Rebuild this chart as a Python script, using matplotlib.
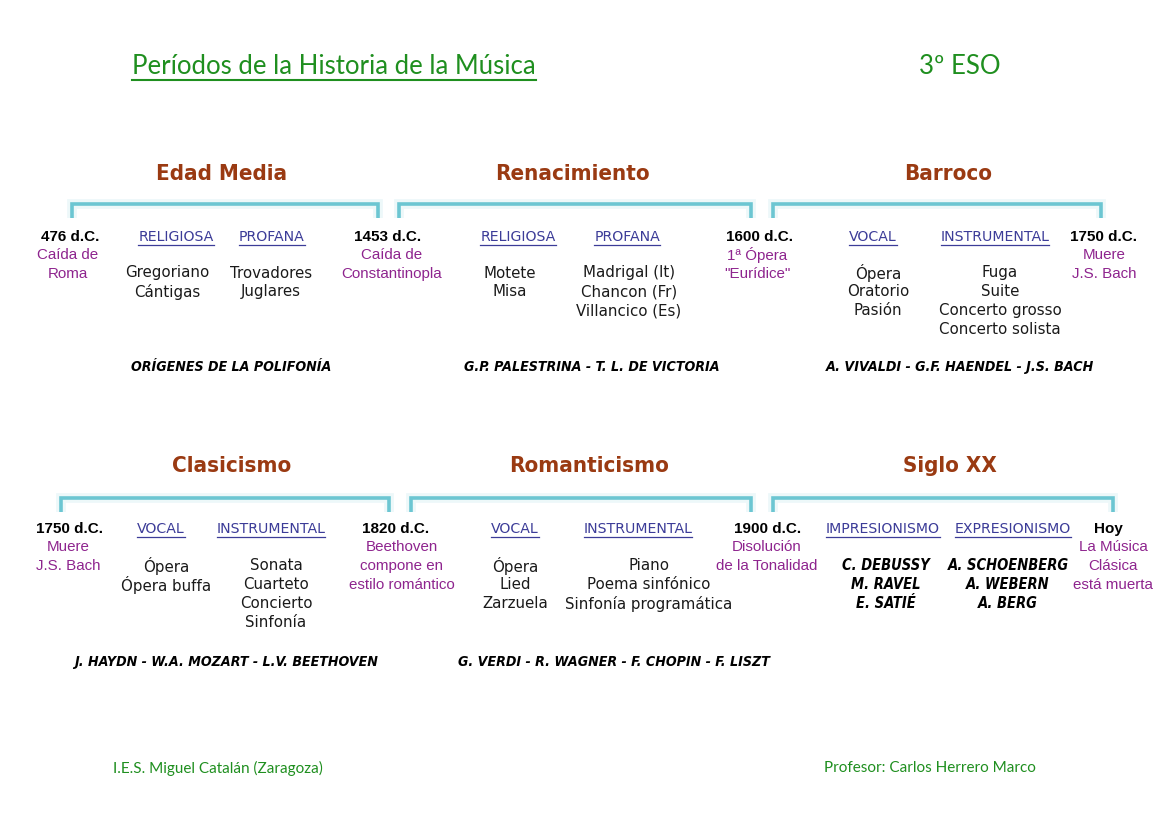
import matplotlib
matplotlib.use("Agg")
import matplotlib.pyplot as plt

# Datos del esquema
titulo = "Períodos de la Historia de la Música"
curso = "3º ESO"
pie_izq = "I.E.S. Miguel Catalán (Zaragoza)"
pie_der = "Profesor: Carlos Herrero Marco"

periodos = [["Edad Media", "Renacimiento", "Barroco"],
            ["Clasicismo", "Romanticismo", "Siglo XX"]]

fechas = [["476 d.C.", "1453 d.C.", "1600 d.C.", "1750 d.C."],
          ["1750 d.C.", "1820 d.C.", "1900 d.C.", "Hoy"]]

notas = [[["Caída de", "Roma"], ["Caída de", "Constantinopla"],
          ["1ª Ópera", "\"Eurídice\""], ["Muere", "J.S. Bach"]],
         [["Muere", "J.S. Bach"], ["Beethoven", "compone en", "estilo romántico"],
          ["Disolución", "de la Tonalidad"], ["La Música", "Clásica", "está muerta"]]]

categorias = [[["RELIGIOSA", "PROFANA"], ["RELIGIOSA", "PROFANA"], ["VOCAL", "INSTRUMENTAL"]],
              [["VOCAL", "INSTRUMENTAL"], ["VOCAL", "INSTRUMENTAL"], ["IMPRESIONISMO", "EXPRESIONISMO"]]]

generos = [[[["Gregoriano", "Cántigas"], ["Trovadores", "Juglares"]],
            [["Motete", "Misa"], ["Madrigal (It)", "Chancon (Fr)", "Villancico (Es)"]],
            [["Ópera", "Oratorio", "Pasión"], ["Fuga", "Suite", "Concerto grosso", "Concerto solista"]]],
           [[["Ópera", "Ópera buffa"], ["Sonata", "Cuarteto", "Concierto", "Sinfonía"]],
            [["Ópera", "Lied", "Zarzuela"], ["Piano", "Poema sinfónico", "Sinfonía programática"]],
            [["C. DEBUSSY", "M. RAVEL", "E. SATIÉ"], ["A. SCHOENBERG", "A. WEBERN", "A. BERG"]]]]

compositores = [["ORÍGENES DE LA POLIFONÍA", "G.P. PALESTRINA - T. L. DE VICTORIA",
                 "A. VIVALDI - G.F. HAENDEL - J.S. BACH"],
                ["J. HAYDN - W.A. MOZART - L.V. BEETHOVEN",
                 "G. VERDI - R. WAGNER - F. CHOPIN - F. LISZT", ""]]

# Maquetación (pixeles)
fila_titulo_y = [174, 466]
fila_llave_y = [204, 498]
fila_fecha_y = [237, 529]
fila_nota_y = [255, 547]
fila_item_y = [273, 566]
fila_comp_y = [367, 662]
paso = 18.8

titulo_x = [[222, 572, 948], [232, 589, 950]]
llaves_x = [[(72, 378), (399, 751), (773, 1101)], [(61, 389), (411, 751), (773, 1113)]]
fecha_x = [[70, 388, 760, 1104], [70, 396, 768, 1108]]
nota_x = [[68, 392, 757, 1104], [68, 402, 767, 1113]]
cat_x = [[(176, 272), (518, 627), (873, 995)], [(161, 271), (515, 638), (883, 1013)]]
item_x = [[(167, 271), (510, 629), (878, 1000)], [(166, 276), (515, 649), (886, 1008)]]
comp_x = [[231, 592, 960], [226, 614, 950]]

verde = "#1f8f1f"
marron = "#9a3a12"
morado = "#8e248e"
azul = "#3c3c98"
celeste = "#6cc6d2"

f_titulo = ["Lato", "DejaVu Sans"]
f_arial = ["Liberation Sans", "DejaVu Sans"]
f_gothic = ["DejaVu Sans"]

fig = plt.figure(figsize=(11.69, 8.26), dpi=100)
ax = fig.add_axes([0, 0, 1, 1])
ax.set_xlim(0, 1169)
ax.set_ylim(826, 0)
ax.axis("off")

subrayar = []

t = ax.text(132, 67, titulo, color=verde, fontsize=18.5, family=f_titulo, ha="left", va="center")
subrayar.append((t, verde, 1.5, 0.5))
ax.text(960, 67, curso, color=verde, fontsize=18.5, family=f_titulo, ha="center", va="center")

for r in range(2):
    for p in range(3):
        ax.text(titulo_x[r][p], fila_titulo_y[r], periodos[r][p], color=marron,
                fontsize=16, fontweight="bold", family="DejaVu Sans", fontstretch="condensed",
                ha="center", va="center")
        x0, x1 = llaves_x[r][p]
        y = fila_llave_y[r]
        for lw, al in [(7, 0.12), (2.6, 1.0)]:
            ax.plot([x0, x0, x1, x1], [y + 14, y, y, y + 14], color=celeste, lw=lw,
                    alpha=al, solid_joinstyle="miter", solid_capstyle="butt")
        for k in range(2):
            t = ax.text(cat_x[r][p][k], fila_fecha_y[r], categorias[r][p][k], color=azul,
                        fontsize=10.2, family=f_gothic, ha="center", va="center")
            subrayar.append((t, azul, 0.9, 1))
            for i, g in enumerate(generos[r][p][k]):
                if r == 1 and p == 2:
                    ax.text(item_x[r][p][k], fila_item_y[r] + i * paso, g, color="black",
                            fontsize=10.5, fontweight="bold", style="italic",
                            family="DejaVu Sans", fontstretch="condensed",
                            ha="center", va="center")
                else:
                    ax.text(item_x[r][p][k], fila_item_y[r] + i * paso, g, color="#1a1a1a",
                            fontsize=10.8, family=f_gothic, ha="center", va="center")
        if compositores[r][p]:
            ax.text(comp_x[r][p], fila_comp_y[r], compositores[r][p], color="black",
                    fontsize=10.2, fontweight="bold", style="italic", family="DejaVu Sans",
                    fontstretch="condensed", ha="center", va="center")
    for j in range(4):
        ax.text(fecha_x[r][j], fila_fecha_y[r], fechas[r][j], color="black",
                fontsize=11, fontweight="bold", family=f_arial, ha="center", va="center")
        for i, n in enumerate(notas[r][j]):
            ax.text(nota_x[r][j], fila_nota_y[r] + i * paso, n, color=morado,
                    fontsize=10.9, family=f_arial, ha="center", va="center")

ax.text(113, 768, pie_izq, color=verde, fontsize=11, family=f_titulo, ha="left", va="center")
ax.text(824, 768, pie_der, color=verde, fontsize=11, family=f_titulo, ha="left", va="center")

# subrayados
fig.canvas.draw()
rend = fig.canvas.get_renderer()
inv = ax.transData.inverted()
for t, c, lw, off in subrayar:
    bb = t.get_window_extent(rend)
    (a, b), (c2, d) = inv.transform([[bb.x0, bb.y0], [bb.x1, bb.y1]])
    ax.plot([a, c2], [b + off, b + off], color=c, lw=lw)

fig.savefig("out.png", dpi=100, facecolor="white")
